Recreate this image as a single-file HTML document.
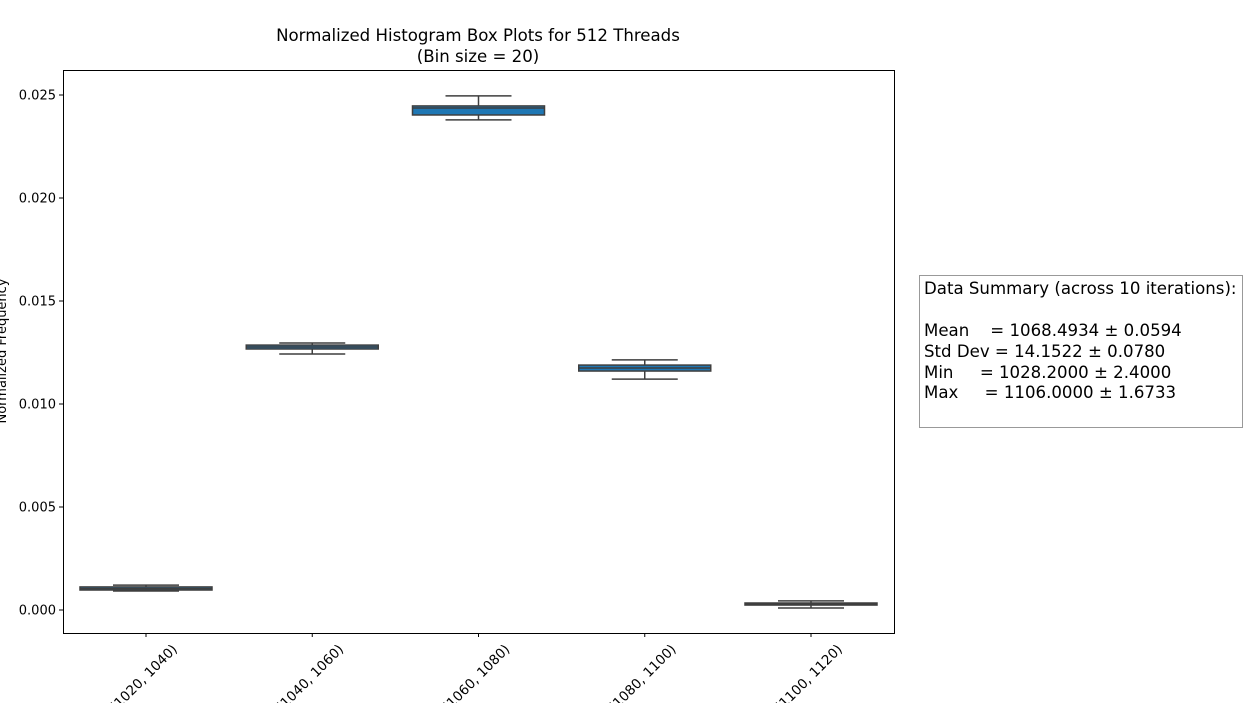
<!DOCTYPE html>
<html><head><meta charset="utf-8"><style>
body{margin:0;background:#fff;}
svg text{font-family:"DejaVu Sans","Liberation Sans",sans-serif;}
</style></head><body>
<svg id="chart" width="1250" height="703" xmlns="http://www.w3.org/2000/svg">
<text x="478" y="41" font-size="16.6" text-anchor="middle">Normalized Histogram Box Plots for 512 Threads</text>
<text x="478" y="62" font-size="16.6" text-anchor="middle">(Bin size = 20)</text>
<text transform="translate(6,351) rotate(-90)" font-size="13" text-anchor="middle">Normalized Frequency</text>
<g id="yticks"></g><g id="xticks"></g><g id="boxes"></g>
<rect x="63.5" y="70.5" width="831" height="563" fill="none" stroke="#000" stroke-width="1"/>
<g>
<rect x="919.5" y="275.5" width="323" height="152" fill="#fff" stroke="#999"/>
<text x="924" y="294" font-size="16.6">Data Summary (across 10 iterations):</text>
<text x="924" y="336" font-size="16.6" xml:space="preserve">Mean    = 1068.4934 ± 0.0594</text>
<text x="924" y="357" font-size="16.6">Std Dev = 14.1522 ± 0.0780</text>
<text x="924" y="378" font-size="16.6" xml:space="preserve">Min     = 1028.2000 ± 2.4000</text>
<text x="924" y="398" font-size="16.6" xml:space="preserve">Max     = 1106.0000 ± 1.6733</text>
</g>
</svg>
<script>
const categories=["[1020, 1040)","[1040, 1060)","[1060, 1080)","[1080, 1100)","[1100, 1120)"];
const whiskerLow=[0.00092,0.01243,0.02379,0.01121,0.0001];
const q1=[0.00097,0.01267,0.02403,0.0116,0.00024];
const median=[0.00104,0.01277,0.02437,0.01175,0.00029];
const q3=[0.00112,0.01286,0.02447,0.01189,0.00034];
const whiskerHigh=[0.00121,0.01296,0.02496,0.01214,0.00044];
const yTicks=[0,0.005,0.01,0.015,0.02,0.025];
const NS="http://www.w3.org/2000/svg";
const y=v=>610-v/0.025*515;
const x=i=>146+i*166.25;
function mk(t,a,p){const e=document.createElementNS(NS,t);for(const k in a)e.setAttribute(k,a[k]);p.appendChild(e);return e;}
const yg=document.getElementById('yticks');
yTicks.forEach(v=>{
 const l=mk('line',{x1:59,x2:63,y1:y(v),y2:y(v),stroke:'#000'},yg);
 
 
 const t=mk('text',{x:56,y:y(v)+4.5,'font-size':13,'text-anchor':'end'},yg);
 t.textContent=v.toFixed(3);
 
 
});
const xg=document.getElementById('xticks'),bg=document.getElementById('boxes');
categories.forEach((c,i)=>{
 const cx=x(i);
 const l=mk('line',{x1:cx,x2:cx,y1:633,y2:637,stroke:'#000'},xg);
 
 
 const t=mk('text',{transform:`translate(${cx+32},${650}) rotate(-45)`,'font-size':13.5,'text-anchor':'end'},xg);
 t.textContent=c;
 
 
 const g=mk('g',{},bg);
 
 
 const hw=66,cw=33,col='#3f3f3f';
 mk('line',{x1:cx,x2:cx,y1:y(whiskerLow[i]),y2:y(q1[i]),stroke:col,'stroke-width':1.5},g);
 mk('line',{x1:cx,x2:cx,y1:y(q3[i]),y2:y(whiskerHigh[i]),stroke:col,'stroke-width':1.5},g);
 mk('line',{x1:cx-cw,x2:cx+cw,y1:y(whiskerLow[i]),y2:y(whiskerLow[i]),stroke:col,'stroke-width':1.5},g);
 mk('line',{x1:cx-cw,x2:cx+cw,y1:y(whiskerHigh[i]),y2:y(whiskerHigh[i]),stroke:col,'stroke-width':1.5},g);
 const top=y(q3[i]),bot=y(q1[i]);
 mk('rect',{x:cx-hw,y:top,width:2*hw,height:Math.max(bot-top,1),fill:'#1f77b4',stroke:col,'stroke-width':1.5},g);
 mk('line',{x1:cx-hw,x2:cx+hw,y1:y(median[i]),y2:y(median[i]),stroke:col,'stroke-width':1.5},g);
});
</script>
</body></html>
